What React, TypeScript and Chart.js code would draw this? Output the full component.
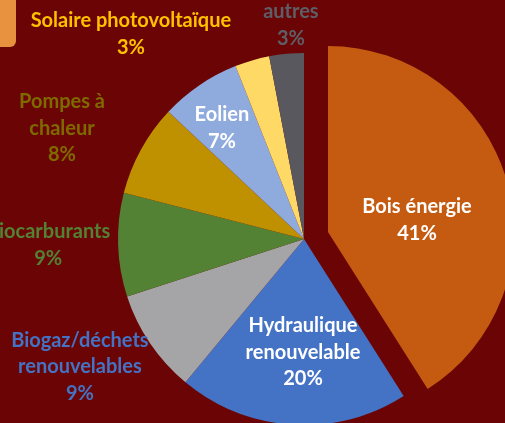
import React, { useEffect, useRef } from "react";
import { Chart, registerables } from "chart.js";

Chart.register(...registerables);

const categories = [
  "Bois énergie",
  "Hydraulique renouvelable",
  "Biogaz/déchets renouvelables",
  "Biocarburants",
  "Pompes à chaleur",
  "Eolien",
  "Solaire photovoltaïque",
  "autres",
];
const shares = [41, 20, 9, 9, 8, 7, 3, 3];
const labelLines = [
  ["Bois énergie"],
  ["Hydraulique", "renouvelable"],
  ["Biogaz/déchets", "renouvelables"],
  ["Biocarburants"],
  ["Pompes à", "chaleur"],
  ["Eolien"],
  ["Solaire photovoltaïque"],
  ["autres"],
];
const sliceColors = ["#C55A11", "#4472C4", "#A5A5A7", "#548235", "#BF9000", "#8FAADC", "#FFD966", "#58585E"];
const labelColors = ["#FFFFFF", "#FFFFFF", "#4472C4", "#548235", "#7F6A00", "#FFFFFF", "#FFC000", "#5E5E66"];
// polar placement of label blocks: angle (deg clockwise from top), distance as fraction of radius
const labelAngles = [80.5, 180.5, 240.3, 268.7, 294.6, 323.5, 319.8, 356.5];
const labelDist = [0.616, 0.608, 1.387, 1.376, 1.431, 0.742, 1.442, 1.153];
// explode distance (px) of each slice along its mid-angle
const explode = [25, 0, 0, 0, 0, 0, 0, 0];

const BG = "#6B0505";
const FONT = "bold 20px Lato, 'Open Sans', sans-serif";
const LINE_H = 26.5;

const explodePlugin = {
  id: "explodeSlices",
  afterDatasetsUpdate(chart: any) {
    const meta = chart.getDatasetMeta(0);
    meta.data.forEach((arc: any, i: number) => {
      const d = explode[i] || 0;
      if (!d) return;
      const mid = (arc.startAngle + arc.endAngle) / 2;
      arc.x += Math.cos(mid) * d;
      arc.y += Math.sin(mid) * d;
    });
  },
};

const labelPlugin = {
  id: "sliceLabels",
  afterDatasetsDraw(chart: any) {
    const meta = chart.getDatasetMeta(0);
    const ctx = chart.ctx;
    const area = chart.chartArea;
    const ox = (area.left + area.right) / 2;
    const oy = (area.top + area.bottom) / 2;
    ctx.save();
    ctx.font = FONT;
    ctx.textAlign = "center";
    ctx.textBaseline = "middle";
    meta.data.forEach((arc: any, i: number) => {
      const R = arc.outerRadius;
      const a = (labelAngles[i] * Math.PI) / 180;
      const cx = ox + labelDist[i] * R * Math.sin(a);
      const cy = oy - labelDist[i] * R * Math.cos(a);
      const lines = [...labelLines[i], shares[i] + "%"];
      const top = cy - ((lines.length - 1) * LINE_H) / 2;
      ctx.fillStyle = labelColors[i];
      lines.forEach((t, k) => ctx.fillText(t, cx, top + k * LINE_H));
    });
    ctx.restore();
  },
};

export default function App() {
  const ref = useRef<HTMLCanvasElement>(null);
  useEffect(() => {
    document.body.style.margin = "0";
    const chart = new Chart(ref.current!, {
      type: "pie",
      data: {
        labels: categories,
        datasets: [
          {
            data: shares,
            backgroundColor: sliceColors,
            borderWidth: 0,
            radius: 186,
            clip: false as any,
          } as any,
        ],
      },
      options: {
        responsive: false,
        animation: false,
        layout: { padding: { left: 103, right: 0, top: 55, bottom: 0 } },
        plugins: { legend: { display: false }, tooltip: { enabled: false } },
      },
      plugins: [explodePlugin, labelPlugin],
    });
    return () => chart.destroy();
  }, []);
  return (
    <div style={{ position: "relative", width: 505, height: 423, background: BG, overflow: "hidden" }}>
      <div
        style={{
          position: "absolute",
          left: 0,
          top: 0,
          width: 16,
          height: 47,
          background: "#E8913F",
          borderBottomRightRadius: 6,
        }}
      />
      <canvas ref={ref} width={505} height={423} style={{ position: "absolute", left: 0, top: 0 }} />
    </div>
  );
}
